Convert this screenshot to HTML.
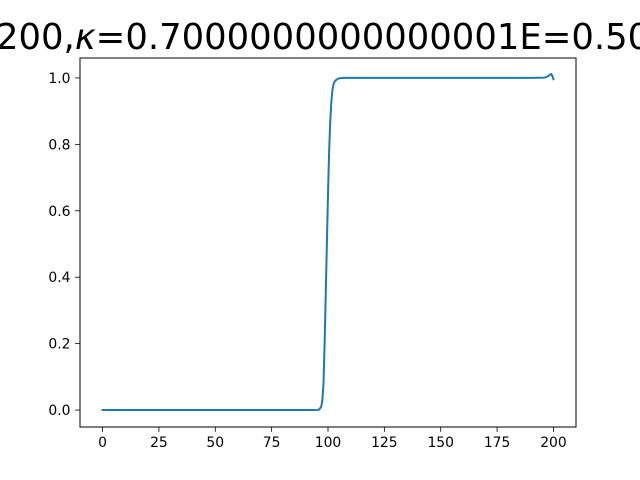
<!DOCTYPE html>
<html><head><meta charset="utf-8"><style>
body{margin:0;background:#fff;}
svg{display:block;font-family:"DejaVu Sans","Liberation Sans",sans-serif;}
</style></head><body>
<svg id="chart" width="640" height="480">
<rect width="640" height="480" fill="#fff"/>
<text x="-4" y="49" font-size="35.4" fill="#000">200,<tspan font-style="italic">κ</tspan>=0.7000000000000001E=0.500</text>
<g id="plot"></g>
<rect x="80" y="58" width="496" height="369" fill="none" stroke="#000" stroke-width="1"/>
</svg>
<script>
const xs = [0, 20, 40, 60, 80, 94, 96, 97, 97.5, 98, 98.5, 99, 99.5, 100, 100.5, 101, 101.5, 102, 102.5, 103, 104, 105, 107, 110, 130, 160, 190, 196, 197, 198, 199, 199.5, 200];
const ys = [0, 0, 0, 0, 0, 0, 0.001, 0.01, 0.03, 0.08, 0.2, 0.35, 0.5, 0.65, 0.78, 0.87, 0.93, 0.965, 0.982, 0.99, 0.996, 0.999, 1, 1, 1, 1, 1, 1.001, 1.003, 1.007, 1.012, 1.006, 0.996];
const xTicks = [0, 25, 50, 75, 100, 125, 150, 175, 200];
const yTicks = [0.0, 0.2, 0.4, 0.6, 0.8, 1.0];
const yTickLabels = ["0.0", "0.2", "0.4", "0.6", "0.8", "1.0"];
const xMin=-10, xMax=210, yMin=-0.051, yMax=1.060;
const L=80, R=576, T=58, B=427;
const sx = v => L + (v - xMin) / (xMax - xMin) * (R - L);
const sy = v => B - (v - yMin) / (yMax - yMin) * (B - T);
const NS = "http://www.w3.org/2000/svg";
const g = document.getElementById('plot');
function mk(tag, attrs){const e=document.createElementNS(NS,tag);for(const k in attrs)e.setAttribute(k,attrs[k]);g.appendChild(e);return e;}
xTicks.forEach(t=>{
  const l=mk('line',{x1:sx(t),x2:sx(t),y1:B,y2:B+4.9,stroke:'#000','stroke-width':0.8});
  
  
  const tx=mk('text',{x:sx(t),y:B+20,'font-size':13.9,'text-anchor':'middle',fill:'#000'});
  tx.textContent=String(t);
  
  
});
yTicks.forEach((t,i)=>{
  const l=mk('line',{x1:L-4.9,x2:L,y1:sy(t),y2:sy(t),stroke:'#000','stroke-width':0.8});
  
  
  const tx=mk('text',{x:L-9.5,y:sy(t)+5,'font-size':13.9,'text-anchor':'end',fill:'#000'});
  tx.textContent=yTickLabels[i];
  
  
});
const d = xs.map((x,i)=>(i?'L':'M')+sx(x).toFixed(2)+','+sy(ys[i]).toFixed(2)).join(' ');
const p=mk('path',{d:d,fill:'none',stroke:'#1f77b4','stroke-width':2,'stroke-linejoin':'round','stroke-linecap':'square'});


</script>
</body></html>
